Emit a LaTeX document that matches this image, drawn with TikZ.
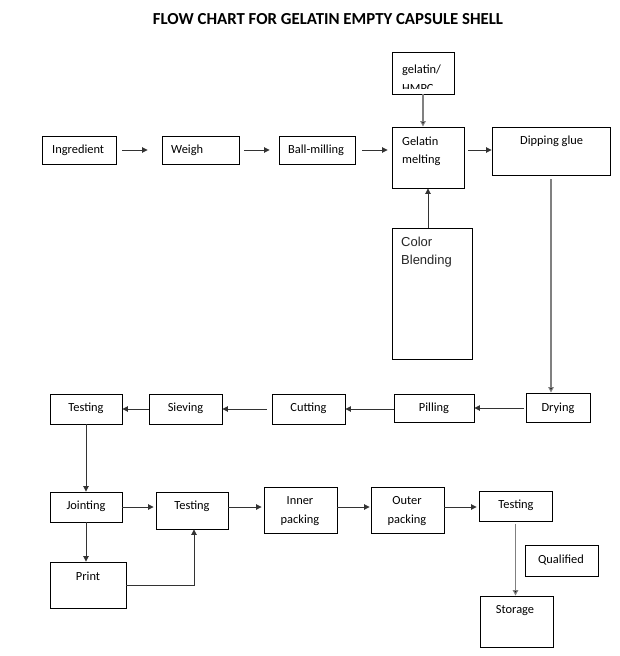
\documentclass[tikz,border=0pt]{standalone}
\usepackage{fontspec}
\setmainfont{Carlito}
\newfontfamily\arialf{Liberation Sans}
\usetikzlibrary{fit,arrows.meta,calc}
\begin{document}
\begin{tikzpicture}[x=1pt,y=-1pt,
  box/.style={draw=black, line width=0.9pt, inner sep=0pt},
  txt/.style={anchor=west, inner sep=0pt, font=\fontsize{12.4}{14}\selectfont},
  arr/.style={line width=0.9pt, draw=black!80, -{Triangle[length=5.5pt,width=5.5pt]}},
  garr/.style={line width=1.1pt, draw=black!50, -{Triangle[length=5.5pt,width=5.5pt,fill=black]}},
  gline/.style={line width=1.1pt, draw=black!50}]
\useasboundingbox[fill=white] (0,0) rectangle (620,656);
% title
\node[inner sep=0pt, font=\bfseries\fontsize{16.8}{18}\selectfont] (title) at (328,19) {FLOW CHART FOR GELATIN EMPTY CAPSULE SHELL};
% row 1 boxes
\node[box, fit={(42,136)(116,164)}] (ing) {};
\node[box, fit={(162,136)(239,164)}] (wei) {};
\node[box, fit={(279,136)(355,164)}] (bal) {};
\node[box, fit={(392,127)(464,188)}] (gel) {};
\node[box, fit={(392,52)(454,94)}] (hmp) {};
\node[box, fit={(492,127)(610,175)}] (dip) {};
\node[box, fit={(392,228)(472,359)}] (col) {};
% row 2 boxes
\node[box, fit={(50,394)(122,424)}] (te1) {};
\node[box, fit={(149,394)(222,424)}] (sie) {};
\node[box, fit={(272,394)(345,424)}] (cut) {};
\node[box, fit={(394,394)(474,422)}] (pil) {};
\node[box, fit={(526,393)(590,422)}] (dry) {};
% row 3 boxes
\node[box, fit={(50,492)(122,522)}] (joi) {};
\node[box, fit={(156,492)(228,529)}] (te2) {};
\node[box, fit={(264,487)(337,533)}] (inn) {};
\node[box, fit={(371,487)(444,533)}] (out) {};
\node[box, fit={(479,491)(552,521)}] (te3) {};
\node[box, fit={(525,545)(598,576)}] (qua) {};
\node[box, fit={(50,562)(126,608)}] (prt) {};
\node[box, fit={(480,596)(553,647)}] (sto) {};
% texts
\node[txt] (ingT) at (52,150) {Ingredient};
\node[txt] (weiT) at (171,150) {Weigh};
\node[txt] (balT) at (288,150) {Ball-milling};
\node[txt] (gelT1) at (402,141) {Gelatin};
\node[txt] (gelT2) at (402,160) {melting};
\node[txt] (dipT) at (520,141) {Dipping glue};
\node[txt, anchor=base west] (hmpT1) at (402,73) {gelatin/};
\begin{scope}
\clip (392,52) rectangle (454,88.5);
\node[txt, anchor=base west] (hmpT2) at (402,92) {HMPC};
\end{scope}
\node[anchor=west, inner sep=0pt, text=black!85, font=\arialf\fontsize{13}{15}\selectfont] (colT1) at (401,242) {Color};
\node[anchor=west, inner sep=0pt, text=black!85, font=\arialf\fontsize{13}{15}\selectfont] (colT2) at (401,261) {Blending};
\node[txt, anchor=center] (te1T) at (86,408) {Testing};
\node[txt, anchor=center] (sieT) at (185.5,408) {Sieving};
\node[txt, anchor=center] (cutT) at (308.5,408) {Cutting};
\node[txt, anchor=center] (pilT) at (434,408) {Pilling};
\node[txt, anchor=center] (dryT) at (558,408) {Drying};
\node[txt, anchor=center] (joiT) at (86,506) {Jointing};
\node[txt, anchor=center] (te2T) at (192,506) {Testing};
\node[txt, anchor=center] (innT1) at (300,501) {Inner};
\node[txt, anchor=center] (innT2) at (300,520) {packing};
\node[txt, anchor=center] (outT1) at (407,501) {Outer};
\node[txt, anchor=center] (outT2) at (407,520) {packing};
\node[txt, anchor=center] (te3T) at (516,505) {Testing};
\node[txt, anchor=center] (quaT) at (561,560) {Qualified};
\node[txt, anchor=center] (prtT) at (88,576) {Print};
\node[txt, anchor=center] (stoT) at (515,611) {Storage};
% connectors row 1
\draw[arr, shorten <=6pt, shorten >=14pt] (ing.east) -- (wei.west);
\draw[arr, shorten <=5pt, shorten >=9pt] (wei.east) -- (bal.west);
\draw[arr, shorten <=7pt, shorten >=4pt] (bal.east) -- (bal.east -| gel.west);
\draw[arr, shorten <=4pt] (gel.east |- bal.east) -- (dip.west |- bal.east);
\draw[garr] (hmp.south) -- (hmp.south |- gel.north);
\draw[arr] (col.north -| gel.south) -- (gel.south);
\draw[garr, shorten <=4pt] (dip.south) -- (dip.south |- dry.north);
% row 2
\draw[arr, shorten <=2pt] (dry.west |- pil.east) -- (pil.east);
\draw[arr] (pil.west |- cut.east) -- (cut.east);
\draw[arr, shorten <=5pt] (cut.west) -- (sie.east);
\draw[arr] (sie.west) -- (te1.east);
\draw[arr] (te1.south) -- (joi.north);
% row 3
\draw[arr] (joi.south) -- (joi.south |- prt.north);
\draw[arr, shorten >=2pt] (joi.east) -- (joi.east -| te2.west);
\draw[arr, shorten >=2pt] (te2.east |- joi.east) -- (inn.west |- joi.east);
\draw[arr, shorten >=1pt] (inn.east |- joi.east) -- (out.west |- joi.east);
\draw[arr, shorten >=2pt] (out.east |- joi.east) -- (te3.west |- joi.east);
\coordinate (corner) at ($(te2.south)+(2,0)$);
\draw[arr] (prt.east |- 0,585) -| (corner);
\draw[garr, shorten <=3pt] (te3.south) -- (te3.south |- sto.north);
\end{tikzpicture}
\end{document}
